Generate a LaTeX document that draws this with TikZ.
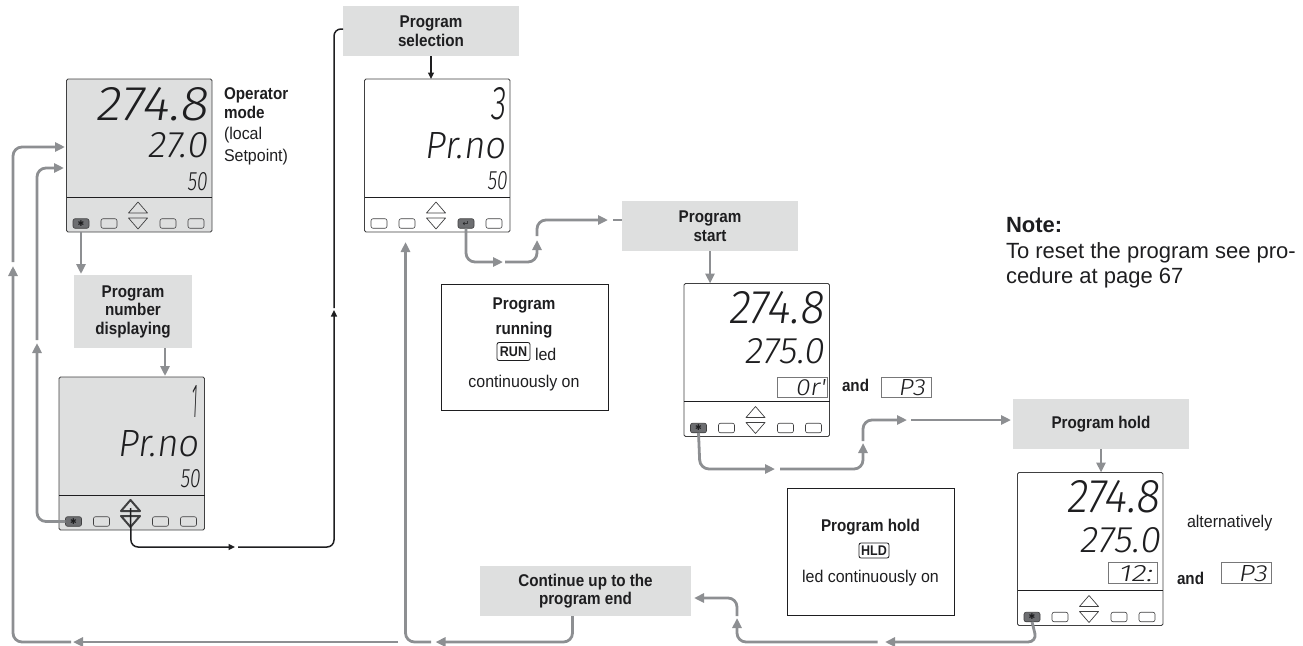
\documentclass[tikz,border=0pt]{standalone}
\usepackage{fontspec}
\usepackage{graphicx}
\usetikzlibrary{arrows.meta}
\setmainfont{Liberation Sans}
\newfontfamily\cond[FakeStretch=0.94]{Liberation Sans}
\newfontfamily\condb[FakeStretch=0.895,UprightFont=* Bold]{Liberation Sans}
\newfontfamily\lcdface[FakeSlant=0.14,UprightFont=* Light]{Fira Sans}
\newfontfamily\symface{DejaVu Sans}
\definecolor{boxgrey}{HTML}{DEDFDF}
\definecolor{linegrey}{HTML}{8D8F92}
\definecolor{ink}{HTML}{1E1E20}
\definecolor{btndark}{HTML}{6D6E71}
\tikzset{
  panelbox/.style={draw=ink!85,line width=.8pt,rounded corners=1.5pt,anchor=north west,inner sep=0pt,outer sep=0pt,minimum width=145.5pt,minimum height=153pt},
  btn/.style={draw=ink!85,line width=.6pt,rounded corners=2pt,inner sep=0pt,outer sep=0pt,minimum width=16pt,minimum height=9.5pt},
  btnon/.style={btn,fill=btndark,font=\symface\fontsize{8}{8}\selectfont,text=ink},
  readout/.style={anchor=base east,inner sep=0pt,outer sep=0pt,text=ink},
  greybox/.style={fill=boxgrey,inner sep=0pt,outer sep=0pt,align=center,text=ink,font=\condb\fontsize{17}{18.5}\selectfont},
  whitebox/.style={draw=ink,line width=.9pt,fill=white,inner sep=0pt,outer sep=0pt},
  label/.style={inner sep=0pt,outer sep=0pt,text=ink,font=\cond\fontsize{17}{19}\selectfont},
  boldlabel/.style={label,font=\condb\fontsize{17}{19}\selectfont},
  badge/.style={draw=ink,line width=.8pt,rounded corners=2pt,inner sep=0pt,outer sep=0pt,text=ink,font=\condb\fontsize{14}{14}\selectfont},
  notetext/.style={anchor=base west,inner sep=0pt,outer sep=0pt,text=ink,font=\fontsize{22}{22}\selectfont},
  subbox/.style={draw=ink!60,line width=.5pt,fill=white,inner sep=0pt,outer sep=0pt,anchor=north west},
  gline/.style={draw=linegrey,line width=2.8pt,rounded corners=9pt},
  garrow/.style={gline,-{Triangle[length=10pt,width=9pt]}},
  kline/.style={draw=ink,line width=1.5pt,rounded corners=7pt},
  karrow/.style={kline,-{Triangle[length=6.5pt,width=6pt]}}
}
% #1 width, #2 height, #3 text: a display reading fitted to its size
\newcommand{\lcdfit}[3]{\resizebox{#1pt}{#2pt}{\lcdface #3}}
% name, left, top, fill, active button, its symbol, triangle line width
\newcommand{\lcdpanel}[7]{%
  \node[panelbox,fill=#4] (#1) at (#2,#3) {};
  \begin{scope}[shift={(#2,#3)}]
    \coordinate (#1-dl) at (0,118);
    \coordinate (#1-dr) at (145.5,118);
    \draw[ink,line width=.8pt] (#1-dl) -- (#1-dr);
    \draw[draw=ink!85,line width=#7,line join=round] (62,134) -- (71.5,123) -- (81,134) -- cycle;
    \draw[draw=ink!85,line width=#7,line join=round] (62,139) -- (81,139) -- (71.5,150) -- cycle;
    \coordinate (#1-up) at (71.5,131);
    \foreach \i/\x in {1/14.5,2/42.5,4/101.5,5/129.5}{%
      \ifnum\i=#5\relax
        \node[btnon] (#1-b\i) at (\x,144.5) {#6};
      \else
        \node[btn] (#1-b\i) at (\x,144.5) {};
      \fi
    }
  \end{scope}}
\begin{document}
\begin{tikzpicture}[x=1pt,y=-1pt]
\useasboundingbox (0,0) rectangle (1303,645);

% panels
\lcdpanel{pa}{66.5}{79}{boxgrey}{1}{✱}{.7pt}
\lcdpanel{pb}{59}{377}{boxgrey}{1}{✱}{2pt}
\lcdpanel{pc}{364.5}{79}{white}{4}{↵}{.7pt}
\lcdpanel{pd}{684}{283.5}{white}{1}{✱}{.7pt}
\lcdpanel{pe}{1017.5}{472.5}{white}{1}{✱}{.7pt}

% readings
\node[readout] (ra1) at (207,120) {\lcdfit{111}{33}{274.8}};
\node[readout] (ra2) at (207,157) {\lcdfit{59}{25}{27.0}};
\node[readout] (ra3) at (207,190) {\lcdfit{20}{18}{50}};
\node[readout] (rb1) at (197,417) {\lcdfit{6}{32}{1}};
\node[readout] (rb2) at (198,456) {\lcdfit{80}{26}{Pr.no}};
\node[readout] (rb3) at (200,487) {\lcdfit{20}{18}{50}};
\node[readout] (rc1) at (505,119) {\lcdfit{15}{32}{3}};
\node[readout] (rc2) at (505,158) {\lcdfit{80}{26}{Pr.no}};
\node[readout] (rc3) at (507,189) {\lcdfit{20}{18}{50}};
\node[readout] (rd1) at (823,323) {\lcdfit{95}{32}{274.8}};
\node[readout] (rd2) at (824,363) {\lcdfit{79}{25}{275.0}};
\node[readout] (re1) at (1159,512) {\lcdfit{93}{32}{274.8}};
\node[readout] (re2) at (1160,552) {\lcdfit{80}{25}{275.0}};

% small readouts
\node[subbox,minimum width=50pt,minimum height=20.5pt] (sd1) at (777,377) {};
\node[readout] (rd3) at (825,395) {\lcdfit{30}{16}{0r'}};
\node[subbox,minimum width=50pt,minimum height=20.5pt] (sd2) at (881,377) {};
\node[readout] (rd4) at (925,395) {\lcdfit{27}{16}{P3}};
\node[subbox,minimum width=49pt,minimum height=21pt] (se1) at (1108,562) {};
\node[readout] (re3) at (1152,581) {\lcdfit{34}{16}{12:}};
\node[subbox,minimum width=50pt,minimum height=21pt] (se2) at (1221,562) {};
\node[readout] (re4) at (1267,581) {\lcdfit{29}{16}{P3}};

% grey boxes
\node[greybox,minimum width=176pt,minimum height=50pt] (sel) at (431,31) {Program\\selection};
\node[greybox,minimum width=118pt,minimum height=73pt] (num) at (133,311.5) {Program\\number\\displaying};
\node[greybox,minimum width=176pt,minimum height=50pt] (start) at (710,226) {Program\\start};
\node[greybox,minimum width=176pt,minimum height=50pt] (hold) at (1101,424) {Program hold};
\node[greybox,minimum width=211pt,minimum height=50pt] (cont) at (585.5,591) {Continue up to the\\program end};

% white boxes
\node[whitebox,minimum width=167pt,minimum height=126pt] (run) at (524.5,347) {};
\node[whitebox,minimum width=167pt,minimum height=127pt] (hbox) at (870.5,551.5) {};
\node[boldlabel,anchor=base] (run1) at (524,309) {Program};
\node[boldlabel,anchor=base] (run2) at (524,334) {running};
\node[badge,minimum width=33pt,minimum height=18pt] (runb) at (513.5,351.5) {RUN};
\node[label,anchor=base west] (run3) at (535,360) {led};
\node[label,anchor=base] (run4) at (524,387) {continuously on};
\node[boldlabel,anchor=base] (hb1) at (870.5,531) {Program hold};
\node[badge,minimum width=30pt,minimum height=15pt] (hbb) at (874,550.5) {HLD};
\node[label,anchor=base] (hb2) at (870.5,582) {led continuously on};

% free labels
\node[boldlabel,anchor=base west] (op1) at (224,99) {Operator};
\node[boldlabel,anchor=base west] (op2) at (224,118) {mode};
\node[label,anchor=base west] (op3) at (224,139) {(local};
\node[label,anchor=base west] (op4) at (224,161) {Setpoint)};
\node[boldlabel,anchor=base west] (and1) at (842,391) {and};
\node[boldlabel,anchor=base west] (and2) at (1177,584) {and};
\node[label,anchor=base west] (alt) at (1187,527) {alternatively};
\node[notetext] (note1) at (1006,232) {\bfseries Note:};
\node[notetext] (note2) at (1006,258) {To reset the program see pro-};
\node[notetext] (note3) at (1006,283) {cedure at page 67};

% free ends of the broken connectors
\coordinate (w1) at (435.5,642);
\coordinate (w2) at (431,642);
\coordinate (w3) at (398,642);
\coordinate (w4) at (73,642);
\coordinate (w5) at (71,642);
\coordinate (w6) at (13,642);
\coordinate (w7) at (13,266);
\coordinate (w8) at (13,262);
\coordinate (w9) at (13,147);
\coordinate (w10) at (65,147);
\coordinate (x1) at (37,343);
\coordinate (x2) at (37,340);
\coordinate (x3) at (37,168);
\coordinate (x4) at (64,168);
\coordinate (y1) at (405.5,642);
\coordinate (y2) at (405.5,242);
\coordinate (k1) at (131,547);
\coordinate (k2) at (235,547);
\coordinate (k3) at (238,547);
\coordinate (k4) at (334,547);
\coordinate (k5) at (334,310);
\coordinate (k6) at (334,308);
\coordinate (k7) at (334,29);
\coordinate (m1) at (466,262);
\coordinate (m2) at (503,262);
\coordinate (m3) at (505,262);
\coordinate (m4) at (537,262);
\coordinate (m5) at (537,240);
\coordinate (m6) at (537,236);
\coordinate (m7) at (537,220);
\coordinate (m8) at (608,220);
\coordinate (m9) at (613,220);
\coordinate (n1) at (700,469);
\coordinate (n2) at (775,469);
\coordinate (n3) at (780,469);
\coordinate (n4) at (863,469);
\coordinate (n5) at (863,443);
\coordinate (n6) at (863,441);
\coordinate (n7) at (863,420);
\coordinate (n8) at (907,420);
\coordinate (n9) at (911,420);
\coordinate (n10) at (1011,420);
\coordinate (q1) at (1037,642);
\coordinate (q2) at (885,642);
\coordinate (q3) at (877.5,642);
\coordinate (q4) at (737,642);
\coordinate (q5) at (737,618);
\coordinate (q6) at (737,616);
\coordinate (q7) at (737,598);
\coordinate (q8) at (694,598);
\coordinate (c1) at (572.5,616);
\coordinate (c2) at (572.5,642);
\coordinate (a1) at (81,232);
\coordinate (a2) at (81,274);
\coordinate (b1) at (165,348);
\coordinate (b2) at (165,376);

% connectors, grey
\draw[garrow] (a1) -- (a2);
\draw[garrow] (b1) -- (b2);
\draw[garrow] (pb-b1.west) -| (x1);
\draw[garrow] (x2) -- (x3) -- (x4);
\draw[garrow] (c1) -- (c2) -- (w1);
\draw[garrow] (w2) -- (y1) -- (y2);
\draw[garrow,rounded corners=0pt] (w3) -- (w4);
\draw[garrow] (w5) -- (w6) -- (w7);
\draw[garrow] (w8) -- (w9) -- (w10);
\draw[garrow] (pc-b4.south) -- (m1) -- (m2);
\draw[garrow] (m3) -- (m4) -- (m5);
\draw[garrow] (m6) -- (m7) -- (m8);
\draw[gline] (m9) -- (start.west |- m9);
\draw[garrow] (start.south) -- (pd.north -| start.south);
\draw[garrow] (pd-b1.south) -- (n1) -- (n2);
\draw[garrow] (n3) -- (n4) -- (n5);
\draw[garrow] (n6) -- (n7) -- (n8);
\draw[garrow] (n9) -- (n10);
\draw[garrow] (hold.south) -- (pe.north -| hold.south);
\draw[garrow] (pe-b1.south) -- (q1) -- (q2);
\draw[garrow] (q3) -- (q4) -- (q5);
\draw[garrow] (q6) -- (q7) -- (q8);

% connectors, black
\draw[karrow] (pb-up) -- (k1) -- (k2);
\draw[karrow] (k3) -- (k4) -- (k5);
\draw[kline] (k6) -- (k7) -- (sel.west |- k7);
\draw[karrow] (sel.south) -- (pc.north -| sel.south);
\end{tikzpicture}
\end{document}
